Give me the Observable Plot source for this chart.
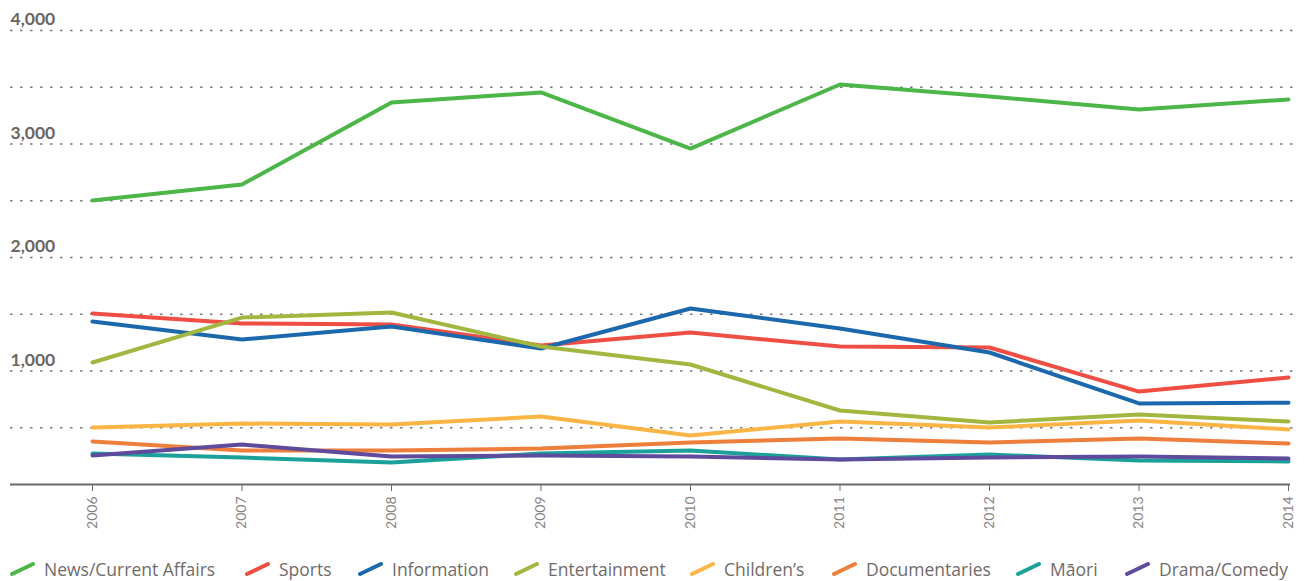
<!DOCTYPE html>
<html>
<head>
<meta charset="utf-8">
<script src="https://cdn.jsdelivr.net/npm/d3@7"></script>
<script src="https://cdn.jsdelivr.net/npm/@observablehq/plot@0.6"></script>
<style>
  html, body { margin: 0; padding: 0; background: #fff; }
  #chart { width: 1308px; }
  #legend { position: relative; height: 36px; margin-top: 6px; font-family: "Open Sans", Lato, sans-serif; font-size: 17.5px; color: #706b69; }
  .item { position: absolute; top: 0; display: flex; align-items: center; height: 36px; white-space: nowrap; }
  .item svg { margin-right: 9px; }
</style>
</head>
<body>
<div id="chart"></div>
<div id="legend"></div>
<script>
const years = [2006, 2007, 2008, 2009, 2010, 2011, 2012, 2013, 2014];
const seriesNames = ["News/Current Affairs", "Sports", "Information", "Entertainment", "Children’s", "Documentaries", "Māori", "Drama/Comedy"];
const seriesColors = ["#4cb648", "#ee4e44", "#1c68ac", "#a2b73f", "#fbb545", "#ed7e3c", "#1ba19a", "#5f4b9d"];
const news = [2502, 2643, 3366, 3454, 2960, 3524, 3419, 3304, 3392];
const sports = [1507, 1419, 1410, 1225, 1339, 1216, 1207, 819, 943];
const information = [1436, 1278, 1392, 1198, 1551, 1374, 1163, 714, 720];
const entertainment = [1075, 1471, 1515, 1216, 1057, 652, 546, 617, 555];
const childrens = [502, 537, 529, 599, 432, 555, 502, 564, 485];
const documentaries = [379, 300, 300, 317, 370, 405, 370, 405, 361];
const maori = [273, 238, 194, 273, 300, 220, 264, 211, 203];
const drama = [256, 352, 247, 256, 247, 220, 238, 247, 229];
const gridValues = [500, 1000, 1500, 2000, 2500, 3000, 3500, 4000];
const labelValues = [1000, 2000, 3000, 4000];

const seriesValues = [news, sports, information, entertainment, childrens, documentaries, maori, drama];
const data = [];
seriesNames.forEach((name, i) => {
  years.forEach((y, j) => data.push({series: name, year: y, value: seriesValues[i][j]}));
});

const chart = Plot.plot({
  width: 1308,
  height: 545,
  marginLeft: 92,
  marginRight: 20,
  marginTop: 30,
  marginBottom: 61,
  style: {fontFamily: "Lato, 'Open Sans', sans-serif", background: "#fff"},
  x: {domain: [2006, 2014], label: null},
  y: {domain: [0, 4000], label: null, axis: null},
  color: {domain: seriesNames, range: seriesColors},
  marks: [
    Plot.ruleY(gridValues, {stroke: "#7a7a7a", strokeWidth: 1.6, strokeDasharray: "2.5,7.5", insetLeft: -82, insetRight: -12}),
    Plot.text(labelValues, {x: () => 2006, y: d => d, text: d => d3.format(",")(d), textAnchor: "start", dx: -82, dy: -11, fill: "#6b6564", fontSize: 17.5, fontWeight: "bold"}),
    Plot.ruleY([0], {stroke: "#6a6a6a", strokeWidth: 2, insetLeft: -82, insetRight: -2}),
    Plot.axisX({ticks: years, tickFormat: d => String(d), tickRotate: -90, tickSize: 7, tickPadding: 5, stroke: "#6a6a6a", fill: "#8a8483", fontSize: 14}),
    Plot.line(data, {x: "year", y: "value", z: "series", stroke: "series", strokeWidth: 4, strokeLinecap: "round", strokeLinejoin: "round"})
  ]
});
document.getElementById("chart").appendChild(chart);

const legendX = [10, 245, 358, 514, 690, 832, 1016, 1125];
const legend = document.getElementById("legend");
seriesNames.forEach((name, i) => {
  const item = document.createElement("div");
  item.className = "item";
  item.style.left = legendX[i] + "px";
  item.innerHTML = `<svg width="25" height="14"><line x1="2" y1="12" x2="23" y2="2" stroke="${seriesColors[i]}" stroke-width="4" stroke-linecap="round"/></svg><span>${name}</span>`;
  legend.appendChild(item);
});
</script>
</body>
</html>
